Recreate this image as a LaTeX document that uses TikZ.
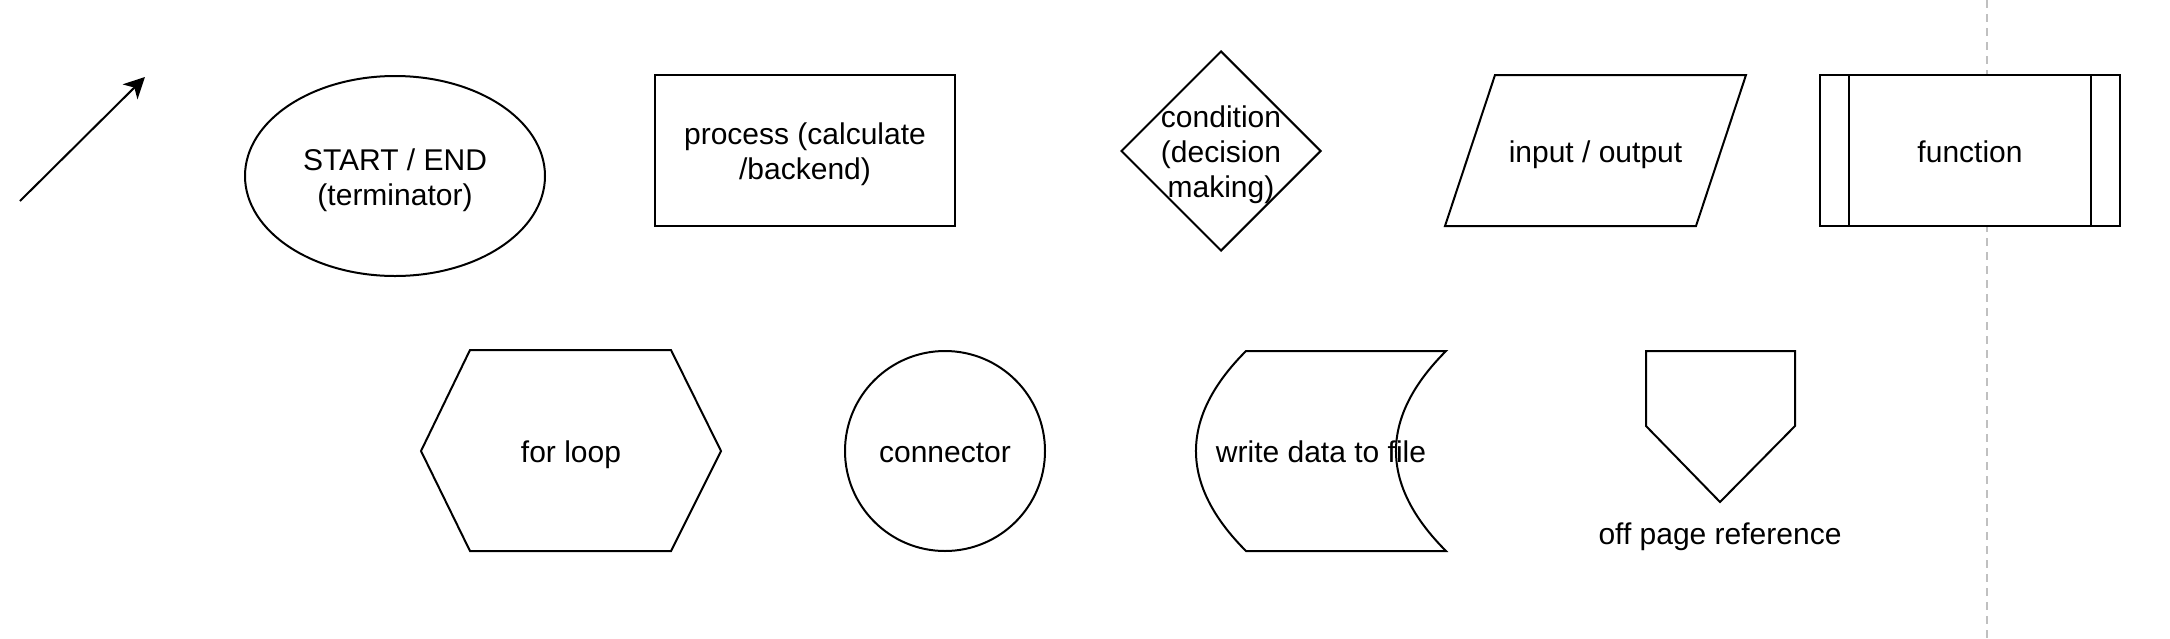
\documentclass[tikz,border=0pt]{standalone}
\usepackage{fontspec}
\setmainfont{Liberation Sans}
\usetikzlibrary{arrows.meta,shapes.geometric}
\definecolor{sepgray}{RGB}{192,192,192}
\begin{document}
\begin{tikzpicture}[x=0.5pt,y=-0.5pt,
  shp/.style={draw=black,line width=1pt,fill=white,line join=miter},
  lbl/.style={font=\fontsize{15}{17.5}\selectfont,align=center,inner sep=0pt,yshift=-2pt},
  lbla/.style={lbl,text height=10.9pt,text depth=3.1pt},
  sepline/.style={draw=sepgray,line width=1pt,dash pattern=on 4pt off 3pt},
  arr/.style={line width=1pt,-{Stealth[length=10.5pt,width=10.5pt,inset=3pt]}}]
\useasboundingbox (0,0) rectangle (2170,638);
% separator
\coordinate (sepTop) at (1987,0);
\coordinate (sepBot) at (1987,638);
\draw[sepline] (sepTop) -- (sepBot);
% arrow
\coordinate (arrA) at (20,201);
\coordinate (arrB) at (145,77);
\draw[arr] (arrA) -- (arrB);
% terminator
\node[shp,ellipse,minimum width=150pt,minimum height=100pt,inner sep=0pt] (term) at (395,176) {};
\node[lbl] (termText) at (term.center) {START / END\\(terminator)};
% process
\node[shp,rectangle,minimum width=150pt,minimum height=75.5pt,inner sep=0pt] (proc) at (805,150.5) {};
\node[lbl] (procText) at (proc.center) {process (calculate\\/backend)};
% condition
\node[shp,diamond,minimum width=100pt,minimum height=100pt,inner sep=0pt] (cond) at (1221,151) {};
\node[lbl] (condText) at (cond.center) {condition\\(decision\\making)};
% input / output
\draw[shp] (1495,75) -- (1746,75) -- (1696,226) -- (1445,226) -- cycle;
\node[lbla] (ioText) at (1595.5,150.5) {input / output};
% function
\node[shp,rectangle,minimum width=150pt,minimum height=75.5pt,inner sep=0pt] (func) at (1970,150.5) {};
\draw[shp] ([xshift=15pt]func.north west) -- ([xshift=15pt]func.south west);
\draw[shp] ([xshift=-15pt]func.north east) -- ([xshift=-15pt]func.south east);
\node[lbla] (funcText) at (func.center) {function};
% for loop
\draw[shp] (470,350) -- (671,350) -- (721,451) -- (671,551) -- (470,551) -- (421,451) -- cycle;
\node[lbla] (loopText) at (571,451) {for loop};
% connector
\node[shp,circle,minimum size=100pt,inner sep=0pt] (conn) at (945,451) {};
\node[lbla] (connText) at (conn.center) {connector};
% write data to file
\draw[shp] (1246,351) -- (1446,351)
  .. controls (1379.3,417.7) and (1379.3,484.3) .. (1446,551)
  -- (1246,551)
  .. controls (1179.3,484.3) and (1179.3,417.7) .. (1246,351) -- cycle;
\node[lbla] (dataText) at (1321,451) {write data to file};
% off page reference
\draw[shp] (1646,351) -- (1795,351) -- (1795,426) -- (1720,502) -- (1646,426) -- cycle;
\node[lbla] (offText) at (1720,533) {off page reference};
\end{tikzpicture}
\end{document}
